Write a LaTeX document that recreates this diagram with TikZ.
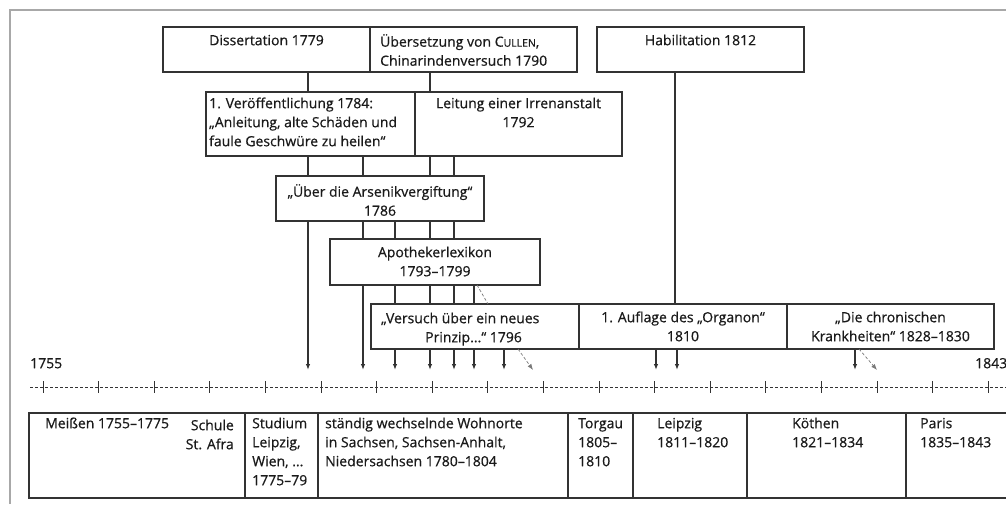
\documentclass[tikz,border=0pt]{standalone}
\usepackage{fontspec}
\setmainfont{Open Sans}[FakeBold=0.6]
\usetikzlibrary{arrows.meta}
\definecolor{boxc}{HTML}{333333}
\definecolor{textc}{HTML}{1A1A1A}
\definecolor{framec}{HTML}{A8A8A8}
\definecolor{diagc}{HTML}{7A7A7A}
\newcommand\mystrut{\rule{0pt}{11pt}}
\begin{document}
\begin{tikzpicture}[x=1pt,y=-1pt,
  box/.style={draw=boxc, line width=1.5pt, anchor=north west, inner sep=0pt, outer sep=0pt},
  txt/.style={inner sep=0pt, text=textc, font=\fontsize{14}{19}\selectfont},
  ln/.style={draw=boxc, line width=1.3pt},
  arr/.style={ln, -{Latex[length=6pt,width=4.5pt]}},
  diag/.style={draw=diagc, line width=0.7pt, densely dashed},
  diagarr/.style={diag, -{Latex[length=6pt,width=4.5pt]}},
  tl/.style={draw=boxc, line width=0.8pt, dash pattern=on 3pt off 2pt},
  tickmark/.style={draw=boxc, line width=1pt},
  frame/.style={draw=framec, line width=2pt}
]
\useasboundingbox (0,0) rectangle (1006,504);
% outer frame
\coordinate (f1) at (10,504);
\coordinate (f2) at (10,10);
\coordinate (f3) at (1006,10);
\draw[frame] (f1) -- (f2) -- (f3);

% top row
\node[box, minimum width=207pt, minimum height=45pt] (dis) at (163,27) {};
\node[box, minimum width=207pt, minimum height=45pt] (ueb) at (370,27) {};
\node[box, minimum width=207pt, minimum height=45pt] (hab) at (597,27) {};
\node[txt, anchor=north] (dist) at (266.5,34) {\mystrut Dissertation 1779};
\node[txt, anchor=north west, align=left] (uebt) at (380,34) {\mystrut Übersetzung von C{\fontsize{10.5}{19}\selectfont ULLEN},\\Chinarindenversuch 1790};
\node[txt, anchor=north] (habt) at (700.5,34) {\mystrut Habilitation 1812};

% second row
\node[box, minimum width=209pt, minimum height=64pt] (ver) at (206,92) {};
\node[box, minimum width=207pt, minimum height=64pt] (lei) at (415,92) {};
\node[txt, anchor=north west, align=left] (vert) at (209,97) {\mystrut 1. Veröffentlichung 1784:\\„Anleitung, alte Schäden und\\faule Geschwüre zu heilen“};
\node[txt, anchor=north, align=center] (leit) at (518.5,97) {\mystrut Leitung einer Irrenanstalt\\1792};

% third row
\node[box, minimum width=208pt, minimum height=45pt] (ars) at (276,176) {};
\node[txt, anchor=north, align=center] (arst) at (380,184) {\mystrut „Über die Arsenikvergiftung“\\1786};

% fourth row
\node[box, minimum width=210pt, minimum height=46pt] (apo) at (330,239) {};
\node[txt, anchor=north, align=center] (apot) at (435,246) {\mystrut Apothekerlexikon\\1793–1799};

% fifth row
\node[box, minimum width=208pt, minimum height=45pt] (vers) at (371,304) {};
\node[box, minimum width=208pt, minimum height=45pt] (org) at (579,304) {};
\node[box, minimum width=207pt, minimum height=45pt] (chr) at (787,304) {};
\node[txt, anchor=north west, align=left] (verst) at (381,312) {\mystrut „Versuch über ein neues\\\hspace*{44pt}Prinzip...“ 1796};
\node[txt, anchor=north, align=center] (orgt) at (683,311) {\mystrut 1. Auflage des „Organon“\\1810};
\node[txt, anchor=north, align=center] (chrt) at (890.5,311) {\mystrut „Die chronischen\\Krankheiten“ 1828–1830};

% timeline
\node[txt, anchor=north west] (y1755) at (30,357) {\mystrut 1755};
\node[txt, anchor=north west] (y1843) at (975,357) {\mystrut 1843};
\coordinate (tlL) at (30,387);
\coordinate (tlR) at (1006,387);
\draw[tl] (tlL) -- (tlR);
\foreach \k in {0,...,17} {
  \draw[tickmark] ({43+55.6*\k},381) -- ({43+55.6*\k},393);
}
\coordinate (ah) at (0,370);

% connectors
\draw[ln] (308,0 |- dis.south) -- (308,0 |- ver.north);
\draw[ln] (430,0 |- ueb.south) -- (430,0 |- lei.north);
\draw[ln] (308,0 |- ver.south) -- (308,0 |- ars.north);
\draw[ln] (363,0 |- ver.south) -- (363,0 |- ars.north);
\draw[ln] (430,0 |- lei.south) -- (430,0 |- ars.north);
\draw[ln] (454,0 |- lei.south) -- (454,0 |- ars.north);
\draw[arr] (308,0 |- ars.south) -- (308,0 |- ah);
\foreach \x in {363,395,430,454} {
  \draw[ln] (\x,0 |- ars.south) -- (\x,0 |- apo.north);
}
\draw[arr] (363,0 |- apo.south) -- (363,0 |- ah);
\foreach \x in {395,430,454,474} {
  \draw[ln] (\x,0 |- apo.south) -- (\x,0 |- vers.north);
}
\draw[diag] (477,0 |- apo.south) -- (488,0 |- vers.north);
\foreach \x in {395,430,454,474,504} {
  \draw[arr] (\x,0 |- vers.south) -- (\x,0 |- ah);
}
\draw[diagarr] (518,0 |- vers.south) -- (533,0 |- ah);
\draw[ln] (675,0 |- hab.south) -- (675,0 |- org.north);
\draw[arr] (656,0 |- org.south) -- (656,0 |- ah);
\draw[arr] (677,0 |- org.south) -- (677,0 |- ah);
\draw[arr] (855,0 |- chr.south) -- (855,0 |- ah);
\draw[diagarr] (859,0 |- chr.south) -- (877,0 |- ah);

% bottom row
\node[box, minimum width=216pt, minimum height=85pt] (b1) at (29,413) {};
\node[box, minimum width=73pt, minimum height=85pt] (b2) at (245,413) {};
\node[box, minimum width=250pt, minimum height=85pt] (b3) at (318,413) {};
\node[box, minimum width=65pt, minimum height=85pt] (b4) at (568,413) {};
\node[box, minimum width=114pt, minimum height=85pt] (b5) at (633,413) {};
\node[box, minimum width=159pt, minimum height=85pt] (b6) at (747,413) {};
\node[box, minimum width=104pt, minimum height=85pt] (b7) at (906,413) {};
\node[txt, anchor=north west] (meit) at (45,417) {\mystrut Meißen 1755–1775};
\node[txt, anchor=north east, align=right] (afrt) at (234,419) {\mystrut Schule\\St. Afra};
\node[txt, anchor=north west, align=left] (stut) at (252,417) {\mystrut Studium\\Leipzig,\\Wien, ...\\1775–79};
\node[txt, anchor=north west, align=left] (stat) at (325,417) {\mystrut ständig wechselnde Wohnorte\\in Sachsen, Sachsen-Anhalt,\\Niedersachsen 1780–1804};
\node[txt, anchor=north west, align=left] (tort) at (578,417) {\mystrut Torgau\\1805–\\1810};
\node[txt, anchor=north west, align=left] (lpzt) at (657,417) {\mystrut Leipzig\\1811–1820};
\node[txt, anchor=north west, align=left] (koet) at (792,417) {\mystrut Köthen\\1821–1834};
\node[txt, anchor=north west, align=left] (part) at (920,417) {\mystrut Paris\\1835–1843};
\end{tikzpicture}
\end{document}
